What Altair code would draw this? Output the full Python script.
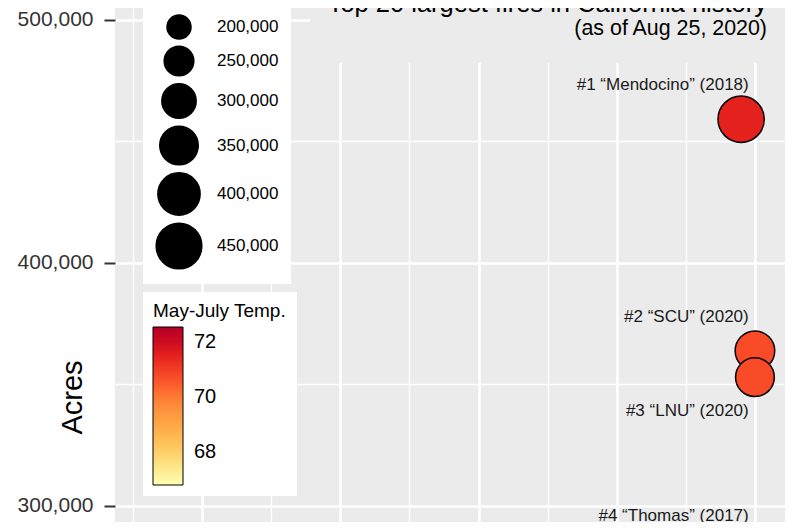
import numpy as np
import pandas as pd
import altair as alt

# fires visible in this crop of the top-20 chart
ranks = [1, 2, 3, 4]
names = ["Mendocino", "SCU", "LNU", "Thomas"]
years = [2018, 2020, 2020, 2017]
acres = [459123, 363772, 352913, 281893]
temps = [71.5, 70.7, 70.7, 70.2]
label_side = ["above", "above", "below", "above"]

size_breaks = [200000, 250000, 300000, 350000, 400000, 450000]
temp_breaks = [68, 70, 72]
y_ticks = [300000, 350000, 400000, 450000, 500000]
x_grid = [1930, 1940, 1950, 1960, 1970, 1980, 1990, 2000, 2010, 2020]

fires = pd.DataFrame({
    "rank": ranks, "name": names, "year": years,
    "acres": acres, "temp": temps, "side": label_side,
})
fires["label"] = [f"#{r} \u201c{n}\u201d ({y})" for r, n, y in zip(ranks, names, years)]

FONT = "Liberation Sans"
PANEL = "#ebebeb"
x_dom = [1927.4, 2024.35]
y_dom = [293290, 504940]
t_dom = [66.8, 72.55]
ylorrd = ["#ffffb2", "#fed976", "#feb24c", "#fd8d3c", "#fc4e2a", "#e31a1c", "#b10026"]

x_scale = alt.Scale(domain=x_dom, nice=False, zero=False)
y_scale = alt.Scale(domain=y_dom, nice=False, zero=False)

x_enc = alt.X("year:Q", scale=x_scale,
              axis=alt.Axis(values=x_grid, labels=False, ticks=False, domain=False, title=None,
                            gridColor="white",
                            gridWidth={"condition": {"test": "datum.value % 20 === 0", "value": 2.6},
                                       "value": 1.3}))
y_enc = alt.Y("acres:Q", scale=y_scale,
              axis=alt.Axis(values=y_ticks, format=",d", title="Acres",
                            labelExpr="datum.value % 100000 === 0 ? datum.label : ''",
                            labelFontSize=21, labelColor="#333", labelPadding=11,
                            tickSize=11, tickWidth=2, tickColor="#333",
                            tickOpacity={"condition": {"test": "datum.value % 100000 === 0", "value": 1},
                                         "value": 0},
                            domain=False, gridColor="white",
                            gridWidth={"condition": {"test": "datum.value % 100000 === 0", "value": 2.6},
                                       "value": 1.3},
                            titleFontSize=29, titleFontWeight="normal", titleColor="black",
                            titleAngle=-90, titleAlign="center", titleBaseline="middle",
                            titleX=-43, titleY=389))

base = alt.Chart(fires)

# grey box behind the title annotation
title_box = alt.Chart(pd.DataFrame({"x": [1955.7], "x2": [x_dom[1]],
                                    "y": [482400], "y2": [y_dom[1]]})).mark_rect(
    color=PANEL).encode(
    x=alt.X("x:Q", scale=x_scale), x2="x2",
    y=alt.Y("y:Q", scale=y_scale), y2="y2")

points = base.mark_circle(stroke="black", strokeWidth=1.5, opacity=1).encode(
    x=x_enc, y=y_enc,
    size=alt.Size("acres:Q", scale=alt.Scale(domain=[200000, 460000], range=[576, 2148], zero=False),
                  legend=alt.Legend(title="Acres", values=size_breaks, format=",d",
                                    orient="none", legendX=28, legendY=-30,
                                    symbolFillColor="black", symbolStrokeColor="black",
                                    symbolOpacity=1, symbolType="circle",
                                    labelFontSize=17, labelColor="black",
                                    titleFontSize=19, titleFontWeight="normal", titleColor="black",
                                    labelOffset=14, rowPadding=1, padding=12,
                                    fillColor="white")),
    color=alt.Color("temp:Q",
                    scale=alt.Scale(domain=list(np.linspace(t_dom[0], t_dom[1], 7)), range=ylorrd),
                    legend=alt.Legend(title="May-July Temp.", values=temp_breaks,
                                      orient="none", legendX=28, legendY=284,
                                      gradientLength=158, gradientThickness=30,
                                      gradientStrokeColor="black", gradientStrokeWidth=1,
                                      labelFontSize=20, labelColor="black",
                                      titleFontSize=19, titleFontWeight="normal", titleColor="black",
                                      titlePadding=6,
                                      labelOffset=11, padding=10, fillColor="white")),
)

above = base.transform_filter(alt.datum.side == "above").mark_text(
    align="right", baseline="middle", dy=-34, fontSize=17, font=FONT, color="#1a1a1a").encode(
    x=alt.X(datum=2019.1), y="acres:Q", text="label:N")
below = base.transform_filter(alt.datum.side == "below").mark_text(
    align="right", baseline="middle", dy=34, fontSize=17, font=FONT, color="#1a1a1a").encode(
    x=alt.X(datum=2019.1), y="acres:Q", text="label:N")

chart = alt.layer(title_box, points, above, below).properties(
    width=670, height=514,
    autosize=alt.AutoSizeParams(type="none"),
    padding={"left": 107, "top": 0, "right": 7, "bottom": 0},
    title=alt.Title("Top 20 largest fires in California history",
                    subtitle="(as of Aug 25, 2020)", anchor="end", frame="group",
                    dx=-18, dy=65, fontSize=25.5, subtitleFontSize=21.4,
                    fontWeight="normal", color="black", subtitleColor="black",
                    font=FONT, subtitleFont=FONT, subtitlePadding=0),
).configure(font=FONT).configure_view(fill=PANEL, stroke=None)

chart.save("out.html", embed_options={"renderer": "svg", "actions": False})
